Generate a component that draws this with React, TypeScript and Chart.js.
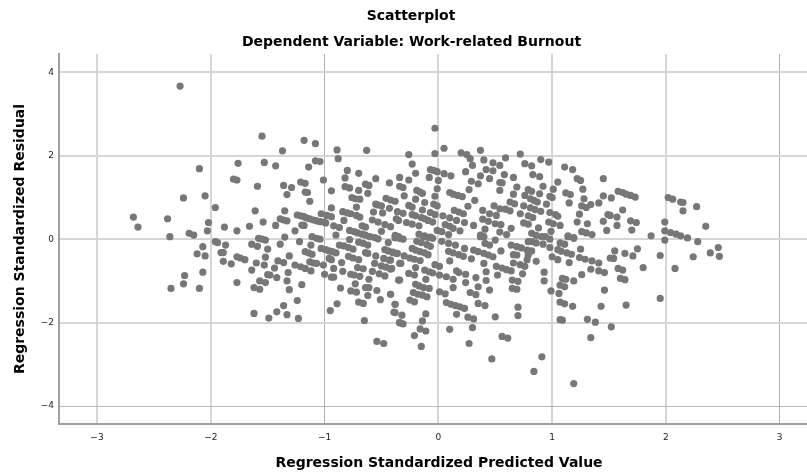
import React, { useEffect, useRef } from "react";
import { Chart, registerables } from "chart.js";

Chart.register(...registerables);

const titleLines = ["Scatterplot", "Dependent Variable: Work-related Burnout"];
const xAxisTitle = "Regression Standardized Predicted Value";
const yAxisTitle = "Regression Standardized Residual";

const upperLeft = [
  [-2.27,3.67],[-2.68,0.53],[-2.64,0.29],[-2.38,0.49],[-2.36,0.06],[-2.19,0.14],[-2.15,0.10],[-2.03,0.20],[-2.02,0.40],[-1.96,0.76],
  [-2.05,1.04],[-2.24,0.99],[-2.10,1.69],[-1.76,1.82],[-1.53,1.84],[-1.55,2.47],[-1.43,1.76],[-1.37,2.12],[-1.18,2.37],[-1.08,2.29],
  [-1.08,1.88],[-1.04,1.86],[-1.14,1.73],[-0.89,2.14],[-0.88,1.93],[-0.63,2.13],[-0.80,1.65],[-0.70,1.58],[-0.82,1.47],[-0.55,1.45],
  [-1.01,1.42],[-1.80,1.44],[-1.77,1.42],[-1.59,1.27],[-1.36,1.29],[-1.29,1.24],[-1.33,1.07],[-1.21,1.37],[-1.17,1.34],[-1.17,1.13],
  [-1.15,1.12],[-1.13,0.91],[-0.94,1.16],[-0.82,1.26],[-0.78,1.23],[-0.70,1.17],[-0.64,1.32],[-0.61,1.29],[-0.62,1.10],[-0.43,1.35],
  [-0.34,1.48],[-0.34,1.27],[-0.76,1.00],[-0.73,0.97],[-0.69,0.96],[-0.72,0.77],[-0.94,0.75],[-0.55,0.84],[-0.53,0.82],[-0.50,0.80],
  [-0.46,0.98],[-0.42,0.94],[-0.38,0.91],[-0.49,0.63],[-0.43,0.74],[-0.57,0.65],[-0.36,0.66],[-0.58,0.46],[-0.53,0.41],[-0.47,0.35],
  [-0.42,0.30],[-0.37,0.49],[-0.83,0.45],[-1.35,0.68],[-1.61,0.68],[-1.39,0.49],[-1.36,0.46],[-1.33,0.44],[-1.54,0.41],[-1.66,0.31],
  [-1.43,0.33],[-1.88,0.29],[-1.77,0.20],[-1.26,0.20],[-1.20,0.34],[-1.18,0.33],
  [-1.24,0.58],[-1.21,0.56],[-1.18,0.54],[-1.16,0.51],[-1.13,0.49],[-1.10,0.46],[-1.07,0.44],[-1.04,0.42],[-1.01,0.41],[-0.99,0.39],
  [-1.03,0.61],[-0.98,0.57],[-0.94,0.54],[-0.92,0.32],[-0.87,0.28],[-0.84,0.66],[-0.80,0.63],[-0.77,0.61],[-0.72,0.57],[-0.69,0.53],
  [-0.67,0.32],[-0.64,0.29],[-0.50,0.19],[-0.90,0.10],[-0.78,0.21],[-0.74,0.18],[-0.71,0.15],[-0.67,0.12],[-0.64,0.10],[-0.60,0.06],
  [-0.56,0.04],[-0.53,0.01],[-0.38,0.09],[-0.35,0.06],
];

const lowerLeft = [
  [-2.07,-0.18],[-2.12,-0.35],[-2.05,-0.40],[-1.96,-0.06],[-1.94,-0.08],[-1.87,-0.14],[-1.91,-0.32],[-1.89,-0.32],[-1.89,-0.53],[-1.82,-0.59],
  [-1.77,-0.42],[-1.74,-0.45],[-1.70,-0.49],[-2.07,-0.79],[-2.23,-0.87],[-2.24,-1.07],[-2.35,-1.18],[-2.10,-1.18],[-1.77,-1.04],[-1.64,-0.12],
  [-1.59,-0.17],[-1.58,0.02],[-1.55,0.00],[-1.52,-0.02],[-1.50,-0.24],[-1.52,-0.43],[-1.53,-0.62],[-1.60,-0.57],[-1.64,-0.74],[-1.39,-0.12],
  [-1.35,0.05],[-1.22,-0.06],[-1.31,-0.40],[-1.41,-0.52],[-1.36,-0.56],[-1.44,-0.69],[-1.50,-0.85],[-1.48,-0.86],[-1.42,-0.92],[-1.32,-0.80],
  [-1.33,-1.00],[-1.57,-1.00],[-1.52,-1.04],[-1.62,-1.16],[-1.57,-1.20],[-1.31,-1.21],[-1.20,-1.09],[-1.24,-1.47],[-1.36,-1.59],[-1.42,-1.74],
  [-1.33,-1.81],[-1.23,-1.90],[-1.49,-1.89],[-1.62,-1.78],[-0.95,-1.71],[-0.89,-1.55],[-0.65,-1.95],[-0.54,-2.45],[-0.48,-2.50],[-0.51,-1.45],
  [-0.62,-1.35],[-0.70,-1.51],[-0.66,-1.54],[-0.77,-1.24],[-0.72,-1.27],[-0.86,-1.17],[-0.54,-1.23],[-0.64,-1.16],[-0.61,-1.16],[-0.73,-1.07],
  [-0.61,-0.96],[-0.77,-0.84],[-0.74,-0.86],[-0.69,-0.89],[-0.84,-0.77],[-0.92,-0.70],[-0.94,-0.91],[-0.92,-0.91],[-1.00,-0.84],[-1.01,-0.62],
  [-0.85,-0.56],[-0.58,-0.77],[-0.52,-0.83],[-0.47,-0.88],[-0.42,-1.32],[-0.38,-1.56],[-0.38,-1.76],[-0.34,-2.00],[-0.35,-0.98],[-0.96,-0.46],
  [-0.94,-0.49],[-0.79,-0.41],[-0.75,-0.45],[-0.70,-0.49],[-0.71,-0.68],[-0.66,-0.71],[-0.56,-0.58],[-0.50,-0.64],[-0.46,-0.67],[-0.42,-0.72],
  [-0.55,-0.40],[-0.34,-0.58],[-1.26,-0.62],[-1.21,-0.66],[-1.17,-0.70],[-1.12,-0.76],[-1.13,-0.54],[-1.10,-0.57],[-1.07,-0.58],[-1.17,-0.30],
  [-1.14,-0.33],[-1.11,-0.36],[-1.12,-0.14],[-1.11,0.06],[-1.07,0.02],[-1.04,0.00],[-1.03,-0.22],[-0.99,-0.25],[-0.96,-0.28],[-0.93,-0.30],
  [-0.90,-0.33],[-0.87,-0.14],[-0.83,-0.16],[-0.79,-0.20],[-0.78,-0.01],[-0.75,-0.24],[-0.70,-0.07],[-0.66,-0.10],[-0.62,-0.14],[-0.64,-0.32],
  [-0.62,-0.34],[-0.44,-0.08],[-0.47,-0.25],[-0.44,-0.28],[-0.40,-0.31],[-0.36,-0.34],[-0.48,-0.46],[-0.43,-0.50],
];

const upperCentre = [
  [-0.03,2.66],[0.05,2.18],[-0.03,2.05],[-0.26,2.03],[-0.23,1.80],[-0.20,1.58],[-0.26,1.42],[-0.31,1.24],[-0.19,1.17],[-0.16,1.13],
  [-0.14,1.10],[-0.30,1.04],[-0.20,0.96],[-0.12,0.88],[-0.07,1.67],[-0.04,1.65],[-0.01,1.62],[-0.08,1.48],[0.00,1.41],[-0.01,1.21],
  [-0.03,1.03],[0.05,1.57],[0.11,1.52],[-0.26,0.81],[-0.23,0.77],[-0.04,0.84],[-0.01,0.80],[-0.14,0.70],[-0.31,0.62],[-0.23,0.59],
  [-0.20,0.56],[-0.15,0.52],[-0.12,0.49],[-0.07,0.64],[-0.03,0.59],[-0.35,0.45],[-0.28,0.40],[-0.23,0.36],[-0.17,0.32],[-0.09,0.45],
  [-0.05,0.41],[-0.17,0.12],[-0.12,0.08],[-0.07,0.05],[-0.01,0.21],[0.03,0.18],[0.09,0.11],[0.04,0.56],[0.10,0.51],[0.06,0.35],
  [0.10,0.31],[0.13,0.26],[0.19,0.20],[0.16,0.45],[0.14,0.69],[0.18,0.65],[0.22,0.61],[0.23,0.40],[0.31,0.33],[0.10,1.12],
  [0.13,1.08],[0.17,1.05],[0.21,1.02],[0.26,0.79],[0.32,0.93],[0.27,1.19],[0.29,1.39],[0.35,1.33],[0.37,1.52],[0.24,1.62],
  [0.30,1.77],[0.20,2.07],[0.25,2.03],[0.28,1.93],[0.37,2.13],[0.40,1.90],[0.48,1.83],[0.42,1.67],[0.48,1.64],[0.45,1.45],
  [0.54,1.77],[0.54,1.36],[0.39,0.69],[0.49,0.80],[0.45,0.61],[0.51,0.57],[0.39,0.48],[0.44,0.43],[0.50,0.37],[0.41,0.24],
  [0.37,0.10],[0.40,0.06],
];

const upperRight = [
  [0.72,2.04],[0.59,1.95],[0.76,1.81],[0.82,1.76],[0.90,1.91],[0.97,1.85],[1.11,1.73],[1.18,1.67],[1.22,1.45],[1.25,1.41],
  [1.45,1.45],[0.58,1.55],[0.83,1.55],[0.89,1.50],[0.66,1.48],[1.05,1.37],[0.56,1.35],[0.92,1.27],[0.69,1.25],[1.01,1.20],
  [1.27,1.20],[0.54,1.17],[0.79,1.19],[0.82,1.15],[0.89,1.09],[0.66,1.08],[0.76,1.05],[1.12,1.11],[1.16,1.07],[0.98,1.03],
  [1.00,1.00],[1.45,1.04],[1.28,0.97],[0.81,0.97],[0.84,0.93],[0.87,0.89],[0.63,0.89],[0.67,0.85],[1.15,0.87],[0.95,0.84],
  [0.75,0.80],[1.26,0.80],[1.30,0.76],[1.34,0.83],[1.41,0.87],[0.54,0.73],[0.59,0.72],[0.63,0.68],[0.81,0.75],[0.85,0.71],
  [0.90,0.67],[0.72,0.61],[0.98,0.64],[1.03,0.59],[1.05,0.55],[0.79,0.56],[0.83,0.52],[1.24,0.60],[1.49,0.59],[1.45,0.43],
  [1.22,0.41],[1.31,0.37],[0.75,0.39],[0.79,0.36],[0.97,0.41],[1.01,0.37],[1.07,0.33],[0.55,0.35],[0.64,0.26],[0.88,0.27],
  [0.99,0.19],[1.48,0.21],[1.26,0.18],[1.30,0.15],[1.35,0.11],[0.82,0.14],[0.86,0.09],[0.91,0.06],[0.54,0.17],[0.60,0.11],
  [1.14,0.08],[1.19,0.04],[0.94,0.06],[0.98,0.00],
  [1.58,1.15],[1.62,1.12],[1.65,1.08],[1.69,1.05],[1.73,1.01],[1.52,0.99],[1.62,0.70],[1.51,0.57],[1.57,0.53],[1.69,0.44],
  [1.74,0.40],[1.57,0.33],[1.70,0.22],[2.02,1.00],[2.06,0.96],[2.13,0.89],[2.15,0.88],[2.15,0.68],[2.27,0.78],[1.99,0.41],
  [2.35,0.31],[1.87,0.08],[1.99,0.20],[2.04,0.16],[2.09,0.12],[2.13,0.08],[2.19,0.03],
];

const lowerCentre = [
  [-0.38,0.03],[-0.34,0.02],[-0.31,0.00],[-0.19,-0.05],[-0.15,-0.08],[-0.10,-0.13],[-0.07,-0.17],[-0.13,0.06],[-0.09,0.04],[-0.05,0.02],
  [-0.40,-0.32],[-0.37,-0.34],[-0.23,-0.22],[-0.20,-0.26],[-0.16,-0.30],[-0.12,-0.33],[-0.09,-0.37],[-0.30,-0.40],[-0.25,-0.45],[-0.21,-0.48],
  [-0.16,-0.51],[-0.42,-0.50],[-0.33,-0.58],[-0.20,-0.68],[-0.41,-0.70],[-0.03,-0.61],[0.01,-0.65],[-0.12,-0.74],[-0.08,-0.78],[-0.05,-0.81],
  [-0.26,-0.82],[-0.21,-0.86],[-0.11,-0.96],[0.01,-0.86],[-0.34,-0.98],[-0.20,-1.08],[-0.17,-1.12],[-0.13,-1.16],[-0.08,-1.18],[-0.42,-1.32],
  [-0.22,-1.28],[-0.18,-1.32],[-0.14,-1.34],[-0.10,-1.38],[-0.25,-1.46],[-0.21,-1.50],[-0.38,-1.56],[-0.39,-1.75],[-0.32,-1.82],[-0.11,-1.79],
  [-0.14,-1.96],[-0.34,-2.00],[-0.31,-2.03],[-0.16,-2.15],[-0.11,-2.20],[-0.21,-2.31],[-0.15,-2.57],[0.03,-0.05],[0.09,-0.10],[0.15,-0.14],
  [0.09,-0.29],[0.13,-0.33],[0.18,-0.37],[0.22,-0.41],[0.29,-0.47],[0.23,-0.22],[0.31,-0.26],[0.35,-0.30],[0.40,-0.34],[0.44,-0.38],
  [0.48,-0.42],[0.40,-0.58],[0.10,-0.52],[0.16,-0.76],[0.18,-0.80],[0.42,-0.78],[0.24,-0.84],[0.33,-0.92],[0.07,-0.90],[0.13,-0.96],
  [0.24,-1.04],[0.42,-0.99],[0.35,-1.14],[0.13,-1.16],[0.45,-1.22],[0.01,-1.26],[0.06,-1.31],[0.28,-1.28],[0.33,-1.33],[0.07,-1.52],
  [0.11,-1.56],[0.15,-1.59],[0.19,-1.62],[0.23,-1.66],[0.35,-1.54],[0.41,-1.59],[0.16,-1.80],[0.26,-1.87],[0.31,-1.91],[0.50,-1.86],
  [0.30,-2.12],[0.10,-2.16],[0.27,-2.50],[0.37,0.06],[0.41,-0.10],[0.45,-0.14],[0.50,-0.02],[0.56,-2.33],[0.61,-2.37],[0.47,-2.87],
  [0.91,-2.82],[0.84,-3.17],[1.19,-3.46],
];

const lowerRight = [
  [0.64,-0.14],[0.69,-0.18],[0.73,-0.21],[0.78,-0.26],[0.79,-0.06],[0.82,-0.28],[0.79,-0.38],[0.78,-0.49],[0.66,-0.37],[0.69,-0.38],
  [0.55,-0.28],[0.66,-0.57],[0.72,-0.61],[0.76,-0.65],[0.86,-0.53],[0.51,-0.65],[0.56,-0.69],[0.60,-0.73],[0.64,-0.76],[0.52,-0.86],
  [0.74,-0.83],[0.93,-0.79],[0.93,-1.00],[0.65,-0.98],[0.70,-1.01],[0.65,-1.18],[0.69,-1.20],[0.99,-1.24],[1.06,-1.30],[1.07,-1.10],
  [1.11,-1.14],[1.09,-0.94],[1.12,-0.96],[1.19,-1.00],[1.26,-0.85],[1.07,-1.51],[1.11,-1.55],[1.18,-1.61],[0.70,-1.63],[0.70,-1.83],
  [1.07,-1.93],[1.09,-1.94],[1.31,-1.92],[1.38,-1.99],[1.52,-2.10],[1.34,-2.36],[1.43,-1.61],[1.46,-1.22],[1.65,-1.58],[1.95,-1.42],
  [2.08,-0.70],[1.80,-0.68],[1.60,-0.94],[1.64,-0.97],[1.58,-0.70],[1.62,-0.74],[1.34,-0.72],[1.41,-0.76],[1.46,-0.80],[1.41,-0.57],
  [1.35,-0.52],[1.29,-0.48],[1.24,-0.44],[1.15,-0.56],[1.00,-0.42],[1.05,-0.49],[1.05,-0.25],[1.08,-0.29],[1.13,-0.33],[1.17,-0.36],
  [0.98,-0.20],[1.07,-0.09],[1.11,-0.12],[1.14,0.06],[1.19,0.02],[1.25,-0.24],[1.55,-0.28],[1.51,-0.45],[1.54,-0.46],[1.64,-0.34],
  [1.71,-0.40],[1.75,-0.23],[1.95,-0.39],[1.99,-0.02],[2.28,-0.06],[2.24,-0.42],[2.39,-0.33],[2.47,-0.41],[2.46,-0.20],[0.82,-0.06],
  [0.86,-0.09],[0.92,-0.12],
];

const points = [...upperLeft, ...lowerLeft, ...upperCentre, ...upperRight, ...lowerCentre, ...lowerRight]
  .map(([x, y]) => ({ x, y }));

const xTicks = [-3, -2, -1, 0, 1, 2, 3];
const yTicks = [-4, -2, 0, 2, 4];
const fontFamily = "'DejaVu Sans', sans-serif";

export default function App() {
  const ref = useRef<HTMLCanvasElement>(null);
  useEffect(() => {
    document.body.style.margin = "0";
    const titlesPlugin = {
      id: "titles",
      afterDraw(chart: any) {
        const ctx = chart.ctx;
        ctx.save();
        ctx.fillStyle = "#000";
        ctx.textAlign = "center";
        ctx.textBaseline = "middle";
        ctx.font = `bold 14px ${fontFamily}`;
        ctx.fillText(titleLines[0], 411, 16.5);
        ctx.fillText(titleLines[1], 411.5, 42);
        ctx.fillText(xAxisTitle, 439, 463);
        ctx.restore();
      },
    };
    const thin = (vals: number[], v: number) => (vals.includes(v) ? 1 : 2);
    const chart = new Chart(ref.current!, {
      type: "scatter",
      data: {
        datasets: [{
          data: points,
          backgroundColor: "#777777",
          borderColor: "#777777",
          pointRadius: 3.6,
          pointHoverRadius: 3.6,
          borderWidth: 0,
        }],
      },
      plugins: [titlesPlugin],
      options: {
        animation: false,
        responsive: false,
        layout: { autoPadding: false, padding: { top: 54, right: 0, left: 0, bottom: 0 } },
        plugins: { legend: { display: false }, tooltip: { enabled: false }, title: { display: false } },
        scales: {
          x: {
            type: "linear",
            min: -3.334,
            max: 3.24,
            afterFit: (s: any) => { s.height = 52; s.paddingLeft = 0; s.paddingRight = 0; },
            afterBuildTicks: (s: any) => { s.ticks = xTicks.map((value) => ({ value })); },
            grid: {
              color: (c: any) => (c.tick?.value === -1 || c.tick?.value === 3 ? "#b0b0b0" : "#d6d6d6"),
              lineWidth: (c: any) => thin([-1, 3], c.tick?.value),
              drawTicks: false,
            },
            border: { color: "#a0a0a0", width: 2 },
            ticks: {
              padding: 8,
              maxRotation: 0,
              color: "#222",
              font: { family: fontFamily, size: 9 },
              callback: (v: any) => String(v).replace("-", "\u2212"),
            },
          },
          y: {
            type: "linear",
            min: -4.43,
            max: 4.44,
            afterFit: (s: any) => { s.width = 59; s.paddingTop = 0; s.paddingBottom = 0; },
            afterBuildTicks: (s: any) => { s.ticks = yTicks.map((value) => ({ value })); },
            grid: {
              color: (c: any) => (c.tick?.value === -4 ? "#b8b8b8" : "#d6d6d6"),
              lineWidth: (c: any) => thin([-4], c.tick?.value),
              drawTicks: false,
            },
            border: { color: "#a0a0a0", width: 2 },
            ticks: {
              padding: 5,
              color: "#222",
              font: { family: fontFamily, size: 9 },
              callback: (v: any) => String(v).replace("-", "\u2212"),
            },
            title: {
              display: true,
              text: yAxisTitle,
              color: "#000",
              font: { family: fontFamily, size: 14, weight: "bold" },
              padding: { top: 12, bottom: 0 },
            },
          },
        },
      } as any,
    });
    return () => chart.destroy();
  }, []);
  return <canvas ref={ref} width={807} height={476} style={{ display: "block" }} />;
}
